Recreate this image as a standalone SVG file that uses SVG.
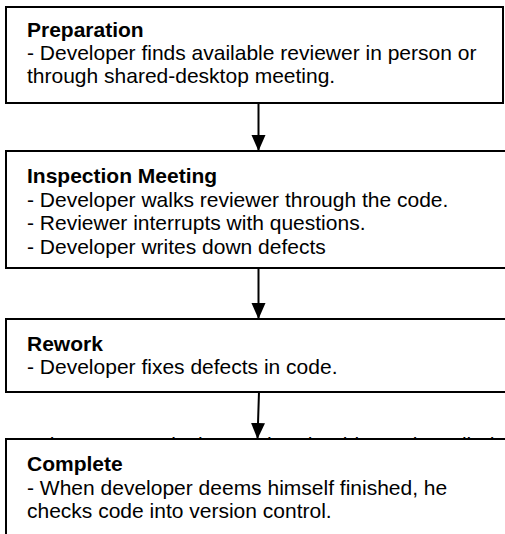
<svg xmlns="http://www.w3.org/2000/svg" width="505" height="534" viewBox="0 0 505 534">
  <style>
    .box { fill: #ffffff; stroke: #000000; stroke-width: 2; }
    .t { font-family: "Liberation Sans", Arial, sans-serif; font-size: 21px; fill: #000000; }
    .h { font-weight: bold; }
    .edge { stroke: #000000; stroke-width: 2; fill: none; }
  </style>
  <defs>
    <marker id="arrow" markerUnits="userSpaceOnUse" markerWidth="16" markerHeight="16" viewBox="0 0 16 16" refX="16" refY="8" orient="auto">
      <path d="M0,1 L16,8 L0,15 Z" fill="#000000"/>
    </marker>
  </defs>
  <rect width="505" height="534" fill="#ffffff"/>

  <text class="t" x="37" y="452">Figure 3: A typical Over-the-shoulder code walk-through process.</text>

  <g id="connectors">
    <line class="edge" x1="258.5" y1="103" x2="258.5" y2="151" marker-end="url(#arrow)"/>
    <line class="edge" x1="258.5" y1="268" x2="258.5" y2="319" marker-end="url(#arrow)"/>
    <line class="edge" x1="259" y1="392" x2="257.5" y2="439" marker-end="url(#arrow)"/>
  </g>

  <g id="preparation">
    <rect class="box" x="6" y="7" width="497" height="96"/>
    <text class="t h" x="27" y="37">Preparation</text>
    <text class="t" x="27" y="60">- Developer finds available reviewer in person or</text>
    <text class="t" x="27" y="83">through shared-desktop meeting.</text>
  </g>

  <g id="inspection-meeting">
    <rect class="box" x="6" y="151" width="502" height="117"/>
    <text class="t h" x="27" y="183">Inspection Meeting</text>
    <text class="t" x="27" y="206.5">- Developer walks reviewer through the code.</text>
    <text class="t" x="27" y="230">- Reviewer interrupts with questions.</text>
    <text class="t" x="27" y="253.5">- Developer writes down defects</text>
  </g>

  <g id="rework">
    <rect class="box" x="6" y="319" width="502" height="73"/>
    <text class="t h" x="27" y="351">Rework</text>
    <text class="t" x="27" y="374">- Developer fixes defects in code.</text>
  </g>

  <g id="complete">
    <rect class="box" x="6" y="439" width="502" height="110"/>
    <text class="t h" x="27" y="471">Complete</text>
    <text class="t" x="27" y="494.5">- When developer deems himself finished, he</text>
    <text class="t" x="27" y="518">checks code into version control.</text>
  </g>
</svg>
